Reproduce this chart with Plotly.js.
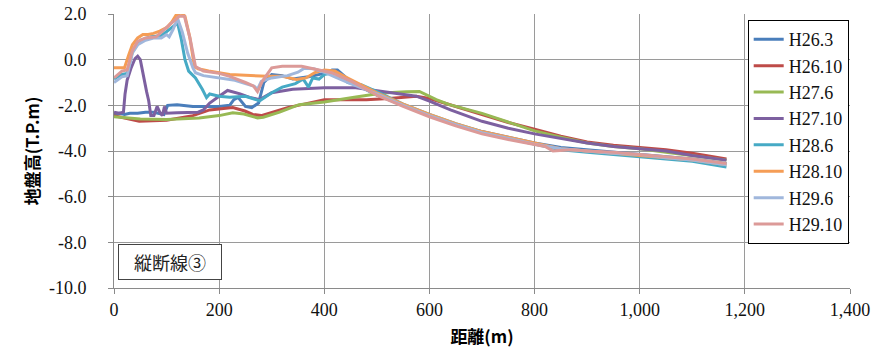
<!DOCTYPE html>
<html>
<head>
<meta charset="utf-8">
<script src="https://cdn.plot.ly/plotly-3.0.1.min.js"></script>
<style>html,body{margin:0;padding:0;background:#fff;}#chart{width:872px;height:353px;}</style>
</head>
<body>
<div id="chart"></div>
<script>
// Series names
const seriesNames = ["H26.3", "H26.10", "H27.6", "H27.10", "H28.6", "H28.10", "H29.6", "H29.10"];

// H26.3
const h26_3_x = [0, 10, 20, 30, 45, 60, 75, 88, 95, 102, 120, 150, 180, 200, 220, 228, 236, 250, 262, 275, 285, 300, 320, 340, 370, 400, 415, 425, 445, 470, 500, 550, 600, 650, 700, 750, 800, 850, 900, 950, 1000, 1050, 1100, 1165];
const h26_3_y = [-2.4, -2.35, -2.4, -2.35, -2.35, -2.3, -2.3, -2.35, -2.4, -2.0, -1.97, -2.05, -2.05, -2.05, -2.0, -1.75, -1.65, -2.05, -2.1, -1.9, -1.0, -0.65, -0.7, -0.85, -0.75, -0.6, -0.45, -0.45, -0.85, -1.2, -1.55, -2.0, -2.45, -2.85, -3.15, -3.4, -3.65, -3.85, -3.95, -4.05, -4.15, -4.25, -4.35, -4.55];

// H26.10
const h26_10_x = [0, 30, 48, 100, 150, 182, 226, 249, 264, 280, 302, 330, 357, 400, 450, 480, 523, 575, 600, 638, 700, 750, 800, 850, 900, 950, 1000, 1050, 1100, 1165];
const h26_10_y = [-2.45, -2.6, -2.7, -2.65, -2.45, -2.2, -2.1, -2.25, -2.4, -2.45, -2.3, -2.1, -1.97, -1.75, -1.75, -1.75, -1.7, -1.6, -1.7, -1.97, -2.4, -2.75, -3.05, -3.35, -3.6, -3.75, -3.85, -3.95, -4.1, -4.35];

// H27.6
const h27_6_x = [0, 50, 100, 162, 200, 226, 247, 273, 284, 315, 352, 400, 457, 511, 556, 581, 613, 638, 700, 750, 800, 850, 900, 950, 1000, 1050, 1100, 1165];
const h27_6_y = [-2.5, -2.6, -2.62, -2.55, -2.45, -2.33, -2.38, -2.55, -2.52, -2.3, -1.97, -1.85, -1.65, -1.46, -1.4, -1.39, -1.75, -1.97, -2.35, -2.75, -3.12, -3.4, -3.65, -3.8, -3.9, -4.05, -4.2, -4.4];

// H27.10
const h27_10_x = [0, 10, 18, 21, 25, 32, 40, 45, 50, 54, 58, 62, 66, 70, 76, 82, 87, 92, 96, 100, 120, 160, 170, 182, 200, 216, 240, 258, 277, 300, 340, 400, 460, 510, 575, 600, 640, 700, 750, 800, 850, 900, 950, 1000, 1050, 1100, 1165];
const h27_10_y = [-2.3, -2.35, -2.3, -1.5, -0.9, -0.4, 0.05, 0.15, 0.0, -0.5, -1.0, -1.4, -1.8, -2.45, -2.45, -2.05, -2.3, -2.45, -2.05, -2.35, -2.33, -2.3, -2.2, -1.9, -1.6, -1.35, -1.5, -1.65, -1.75, -1.45, -1.3, -1.23, -1.23, -1.38, -1.6, -1.82, -2.2, -2.7, -3.0, -3.25, -3.45, -3.65, -3.8, -3.9, -4.0, -4.2, -4.4];

// H28.6
const h28_6_x = [0, 15, 25, 35, 50, 70, 90, 105, 121, 128, 135, 142, 155, 168, 176, 182, 200, 220, 250, 277, 300, 320, 345, 360, 370, 378, 390, 400, 410, 420, 430, 445, 470, 500, 550, 600, 650, 700, 750, 800, 850, 900, 950, 1000, 1050, 1100, 1165];
const h28_6_y = [-0.85, -0.65, -0.6, 0.35, 0.85, 1.0, 1.05, 1.3, 1.6, 0.9, 0.0, -0.5, -0.8, -1.3, -1.66, -1.5, -1.6, -1.65, -1.6, -1.8, -1.45, -1.2, -1.05, -0.85, -1.2, -0.8, -0.85, -0.65, -0.6, -0.55, -0.75, -1.0, -1.1, -1.4, -1.95, -2.4, -2.8, -3.15, -3.45, -3.7, -3.95, -4.05, -4.15, -4.25, -4.35, -4.45, -4.7];

// H28.10
const h28_10_x = [0, 10, 20, 28, 35, 45, 55, 65, 75, 87, 100, 110, 118, 128, 135, 144, 153, 160, 180, 220, 260, 292, 320, 347, 365, 382, 400, 420, 440, 470, 500, 550, 600, 650, 700, 750, 800, 850, 900, 950, 1000, 1050, 1100, 1165];
const h28_10_y = [-0.35, -0.35, -0.35, 0.2, 0.65, 0.95, 1.1, 1.1, 1.15, 1.25, 1.4, 1.65, 1.95, 2.05, 1.9, 1.0, -0.3, -0.4, -0.5, -0.65, -0.7, -0.73, -0.73, -0.87, -0.8, -0.57, -0.45, -0.5, -0.75, -1.1, -1.45, -1.95, -2.4, -2.8, -3.15, -3.4, -3.65, -3.9, -4.0, -4.1, -4.2, -4.3, -4.4, -4.6];

// H29.6
const h29_6_x = [0, 15, 25, 35, 45, 60, 75, 90, 100, 105, 112, 121, 130, 140, 150, 155, 170, 200, 230, 250, 267, 273, 280, 300, 330, 350, 362, 380, 400, 420, 450, 500, 550, 600, 650, 700, 750, 800, 850, 900, 950, 1000, 1050, 1100, 1165];
const h29_6_y = [-1.0, -0.75, -0.7, 0.3, 0.65, 0.85, 0.95, 0.95, 1.1, 1.0, 1.3, 1.8, 1.2, 0.3, -0.35, -0.57, -0.7, -0.8, -0.9, -1.05, -1.17, -1.3, -0.95, -0.8, -0.7, -0.55, -0.38, -0.4, -0.55, -0.75, -1.05, -1.5, -2.0, -2.45, -2.85, -3.2, -3.45, -3.7, -3.9, -4.0, -4.1, -4.15, -4.3, -4.4, -4.6];

// H29.10
const h29_10_x = [0, 15, 25, 35, 45, 60, 80, 95, 105, 118, 124, 134, 145, 155, 170, 200, 220, 250, 265, 273, 282, 300, 320, 357, 387, 414, 452, 500, 550, 600, 650, 700, 750, 800, 820, 835, 870, 900, 950, 1000, 1050, 1100, 1165];
const h29_10_y = [-0.8, -0.5, -0.45, 0.4, 0.8, 0.95, 1.0, 1.3, 1.5, 1.75, 1.9, 1.9, 0.9, -0.3, -0.5, -0.6, -0.73, -1.0, -1.15, -1.4, -0.95, -0.36, -0.29, -0.29, -0.44, -0.57, -0.95, -1.55, -2.05, -2.5, -2.9, -3.25, -3.5, -3.7, -3.8, -4.0, -3.95, -4.0, -4.05, -4.15, -4.25, -4.35, -4.55];

// Axis ticks
const xTickVals = [0, 200, 400, 600, 800, 1000, 1200, 1400];
const xTickText = ["0", "200", "400", "600", "800", "1,000", "1,200", "1,400"];
const yTickVals = [2, 0, -2, -4, -6, -8, -10];
const yTickText = ["2.0", "0.0", "-2.0", "-4.0", "-6.0", "-8.0", "-10.0"];

const xs = [h26_3_x, h26_10_x, h27_6_x, h27_10_x, h28_6_x, h28_10_x, h29_6_x, h29_10_x];
const ys = [h26_3_y, h26_10_y, h27_6_y, h27_10_y, h28_6_y, h28_10_y, h29_6_y, h29_10_y];
const colors = ["#4A7EBB", "#BE4B48", "#98B954", "#7D60A0", "#46AAC5", "#F59D56", "#A0B7DC", "#DC9A98"];

const traces = seriesNames.map((n, i) => ({
  type: "scatter", mode: "lines", name: n, x: xs[i], y: ys[i],
  line: {color: colors[i], width: 3}, legendgroup: "g" + i
}));

const layout = {
  width: 872, height: 353,
  margin: {l: 114, r: 22, t: 14, b: 65},
  paper_bgcolor: "#fff", plot_bgcolor: "#fff",
  font: {family: "Liberation Serif", size: 18, color: "#111111"},
  showlegend: true,
  legend: {
    x: 0.861, y: 0.978, xanchor: "left", yanchor: "top",
    bgcolor: "#fff", bordercolor: "#000", borderwidth: 1,
    font: {family: "Liberation Serif", size: 18, color: "#111111"},
    tracegroupgap: 0
  },
  xaxis: {
    range: [0, 1400], tickmode: "array", tickvals: xTickVals, ticktext: xTickText,
    showgrid: true, gridcolor: "#9a9a9a", gridwidth: 1,
    showline: true, linecolor: "#8a8a8a", linewidth: 1,
    ticks: "outside", ticklen: 5, tickcolor: "#8a8a8a",
    zeroline: false,
    tickfont: {family: "Liberation Serif", size: 18, color: "#111111"},
    title: {text: "距離(m)", font: {family: "Noto Sans CJK JP", size: 17, color: "#000000", weight: 700}, standoff: 12}
  },
  yaxis: {
    range: [-10, 2], tickmode: "array", tickvals: yTickVals, ticktext: yTickText,
    showgrid: true, gridcolor: "#9a9a9a", gridwidth: 1,
    showline: true, linecolor: "#8a8a8a", linewidth: 1,
    ticks: "outside", ticklen: 5, tickcolor: "#8a8a8a",
    zeroline: false, ticklabelstandoff: 18,
    tickfont: {family: "Liberation Serif", size: 18, color: "#111111"},
    title: {text: "地盤高(T.P.m)", font: {family: "Noto Sans CJK JP", size: 17, color: "#000000", weight: 700}, standoff: 4}
  },
  annotations: [{
    xref: "paper", yref: "paper", x: 0.006, y: 0.161, xanchor: "left", yanchor: "top",
    text: "縦断線③", showarrow: false, width: 92, height: 24,
    font: {family: "Noto Sans CJK JP", size: 18, color: "#222222"},
    bgcolor: "#fff", bordercolor: "#444", borderwidth: 1, borderpad: 5
  }]
};

Plotly.newPlot("chart", traces, layout, {displayModeBar: false, staticPlot: true});
</script>
</body>
</html>
